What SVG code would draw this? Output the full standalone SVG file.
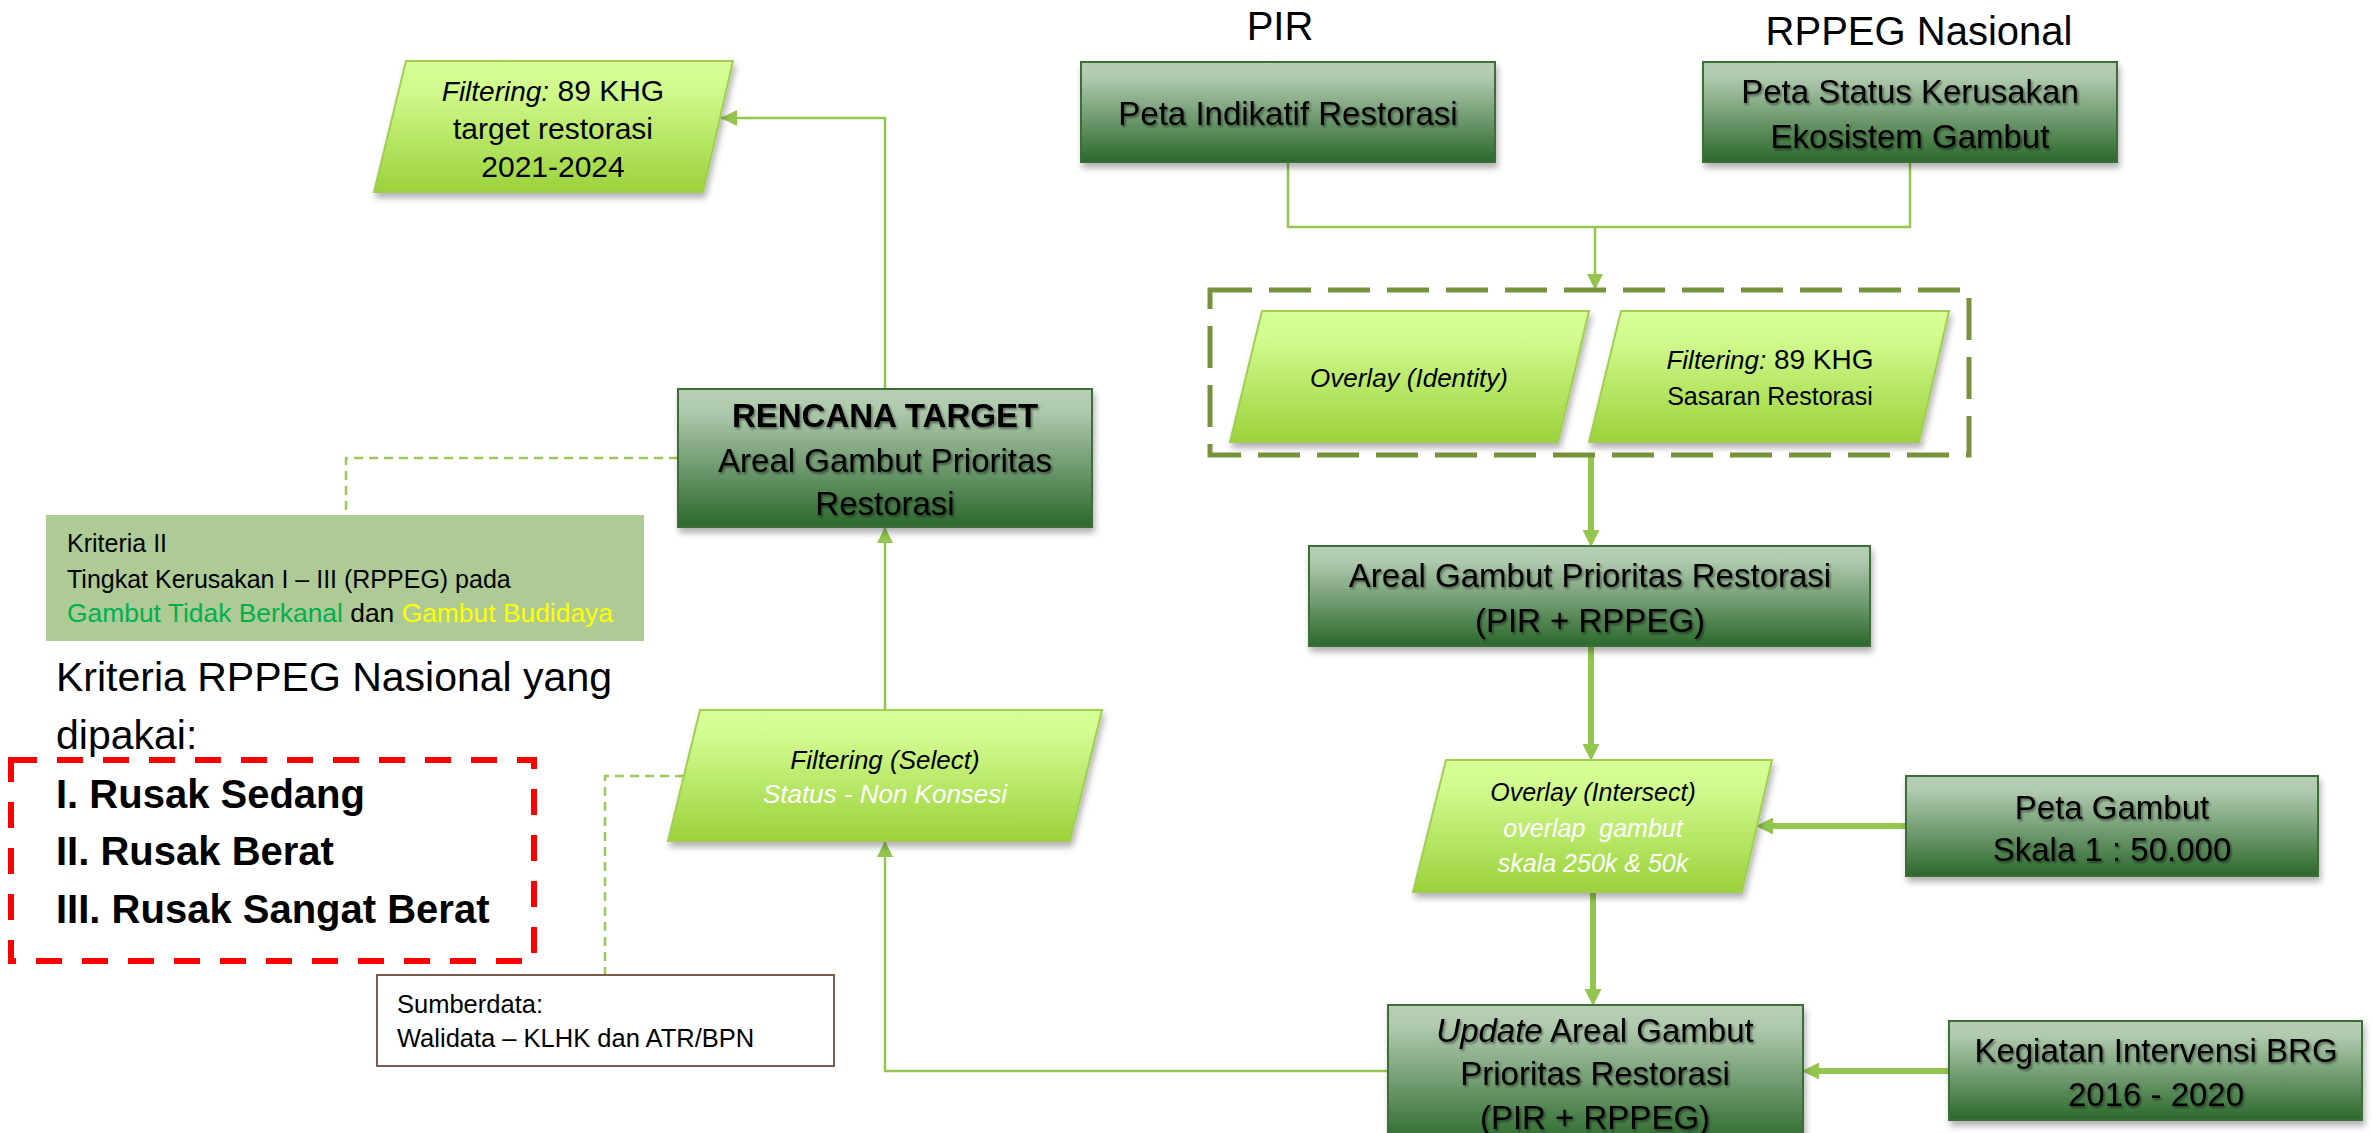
<svg xmlns="http://www.w3.org/2000/svg" width="2372" height="1133" viewBox="0 0 2372 1133">
<defs>
<linearGradient id="gDark" x1="0" y1="0" x2="0" y2="1">
<stop offset="0" stop-color="#B6CFB4"/>
<stop offset="0.15" stop-color="#B0CAAE"/>
<stop offset="1" stop-color="#2B682C"/>
</linearGradient>
<linearGradient id="gLight" x1="0" y1="0" x2="0" y2="1">
<stop offset="0" stop-color="#D7FF96"/>
<stop offset="0.2" stop-color="#D2FB8F"/>
<stop offset="1" stop-color="#9BD23B"/>
</linearGradient>
<filter id="shadow" x="-10%" y="-10%" width="120%" height="135%">
<feDropShadow dx="2" dy="5" stdDeviation="3" flood-color="#000" flood-opacity="0.3"/>
</filter>
<filter id="tshadow" x="-5%" y="-20%" width="110%" height="150%">
<feDropShadow dx="1.5" dy="2" stdDeviation="1.2" flood-color="#000" flood-opacity="0.45"/>
</filter>
<marker id="arr" markerUnits="userSpaceOnUse" markerWidth="16" markerHeight="16" refX="16" refY="8" orient="auto">
<path d="M0,0 L16,8 L0,16 z" fill="#93C54F"/>
</marker>
<marker id="arrT" markerUnits="userSpaceOnUse" markerWidth="17" markerHeight="17" refX="8" refY="8.5" orient="auto">
<path d="M0,0 L17,8.5 L0,17 z" fill="#93C54F"/>
</marker>
<style>
text{font-family:"Liberation Sans",Arial,sans-serif;fill:#000}
.dark{fill:url(#gDark);stroke:#3C6E39;stroke-width:2;filter:url(#shadow)}
.light{fill:url(#gLight);stroke:#A2CD52;stroke-width:2;filter:url(#shadow)}
.bt{font-size:33px;text-anchor:middle;filter:url(#tshadow)}
.pt{font-size:26px;text-anchor:middle;font-style:italic}
.up{font-style:normal}
.wh{fill:#FFFFFF}
.con{fill:none;stroke:#93C54F;stroke-width:2.5}
.conT{fill:none;stroke:#93C54F;stroke-width:6}
.dash{fill:none;stroke:#9BC95A;stroke-width:2.5;stroke-dasharray:9 6}
.kt{font-size:25px}
</style>
</defs>
<rect width="2372" height="1133" fill="#FFFFFF"/>

<g id="connectors">
<path class="con" d="M1288,162 V227 H1910 V162"/>
<path class="con" d="M1595,227 V290" marker-end="url(#arr)"/>
<path class="con" d="M885,389 V118 H721" marker-end="url(#arr)"/>
<path class="con" d="M885,710 V527" marker-end="url(#arr)"/>
<path class="con" d="M1388,1071 H885 V841" marker-end="url(#arr)"/>
<path class="conT" d="M1591,457 V538" marker-end="url(#arrT)"/>
<path class="conT" d="M1591,646 V752" marker-end="url(#arrT)"/>
<path class="conT" d="M1593,892 V997" marker-end="url(#arrT)"/>
<path class="conT" d="M1906,826 H1765" marker-end="url(#arrT)"/>
<path class="conT" d="M1949,1071 H1811" marker-end="url(#arrT)"/>
<path class="dash" d="M678,458 H346 V515"/>
<path class="dash" d="M684,776 H605 V975"/>
</g>

<g id="title-pir"><text x="1280" y="40" font-size="40" text-anchor="middle">PIR</text></g>
<g id="title-rppeg"><text x="1919" y="45" font-size="40" text-anchor="middle">RPPEG Nasional</text></g>

<g id="node-pir">
<rect class="dark" x="1081" y="62" width="414" height="100"/>
<text class="bt" x="1288" y="125">Peta Indikatif Restorasi</text>
</g>
<g id="node-rppeg">
<rect class="dark" x="1703" y="62" width="414" height="100"/>
<text class="bt" x="1910" y="103">Peta Status Kerusakan</text>
<text class="bt" x="1910" y="148">Ekosistem Gambut</text>
</g>

<g id="group-dashed">
<rect x="1210" y="290" width="759" height="165" fill="none" stroke="#76923C" stroke-width="5" stroke-dasharray="42 17"/>
</g>
<g id="node-overlay-identity">
<polygon class="light" points="1262,311 1589,311 1558,442 1230,442"/>
<text class="pt" x="1409" y="387">Overlay (Identity)</text>
</g>
<g id="node-filter-sasaran">
<polygon class="light" points="1621,311 1949,311 1919,442 1589,442"/>
<text class="pt" x="1770" y="369" font-size="25"><tspan>Filtering:</tspan><tspan class="up" font-size="28"> 89 KHG</tspan></text>
<text class="pt up" x="1770" y="405" style="font-size:25px">Sasaran Restorasi</text>
</g>

<g id="node-areal">
<rect class="dark" x="1309" y="546" width="561" height="100"/>
<text class="bt" x="1590" y="587">Areal Gambut Prioritas Restorasi</text>
<text class="bt" x="1590" y="632">(PIR + RPPEG)</text>
</g>

<g id="node-overlay-intersect">
<polygon class="light" points="1446,760 1772,760 1742,892 1413,892"/>
<text class="pt" x="1593" y="801" style="font-size:25px">Overlay (Intersect)</text>
<text class="pt wh" x="1593" y="837" style="font-size:25px">overlap&#160; gambut</text>
<text class="pt wh" x="1593" y="872" style="font-size:25px">skala 250k &amp; 50k</text>
</g>

<g id="node-peta-gambut">
<rect class="dark" x="1906" y="776" width="412" height="100"/>
<text class="bt" x="2112" y="819">Peta Gambut</text>
<text class="bt" x="2112" y="861">Skala 1 : 50.000</text>
</g>

<g id="node-update">
<rect class="dark" x="1388" y="1005" width="415" height="140"/>
<text class="bt" x="1595" y="1042"><tspan font-style="italic">Update</tspan> Areal Gambut</text>
<text class="bt" x="1595" y="1085">Prioritas Restorasi</text>
<text class="bt" x="1595" y="1129">(PIR + RPPEG)</text>
</g>

<g id="node-kegiatan">
<rect class="dark" x="1949" y="1021" width="413" height="99"/>
<text class="bt" x="2156" y="1062">Kegiatan Intervensi BRG</text>
<text class="bt" x="2156" y="1106">2016 - 2020</text>
</g>

<g id="node-filter-target">
<polygon class="light" points="406,61 733,61 703,192 374,192"/>
<text x="553" y="101" font-size="28" text-anchor="middle"><tspan font-style="italic">Filtering:</tspan><tspan font-size="30"> 89 KHG</tspan></text>
<text x="553" y="139" font-size="30" text-anchor="middle">target restorasi</text>
<text x="553" y="177" font-size="30" text-anchor="middle">2021-2024</text>
</g>

<g id="node-rencana">
<rect class="dark" x="678" y="389" width="414" height="138"/>
<text class="bt" x="885" y="427" font-weight="bold">RENCANA TARGET</text>
<text class="bt" x="885" y="472">Areal Gambut Prioritas</text>
<text class="bt" x="885" y="515">Restorasi</text>
</g>

<g id="node-filter-select">
<polygon class="light" points="700,710 1102,710 1070,841 668,841"/>
<text class="pt" x="885" y="769">Filtering (Select)</text>
<text class="pt wh" x="885" y="803">Status - Non Konsesi</text>
</g>

<g id="node-kriteria2">
<rect x="46" y="515" width="598" height="126" fill="#AECB95"/>
<text class="kt" x="67" y="552">Kriteria II</text>
<text class="kt" x="67" y="588">Tingkat Kerusakan I – III (RPPEG) pada</text>
<text class="kt" x="67" y="622" textLength="546" lengthAdjust="spacingAndGlyphs"><tspan fill="#00B050">Gambut Tidak Berkanal</tspan> dan <tspan fill="#FFFF00">Gambut Budidaya</tspan></text>
</g>

<g id="node-kriteria-rppeg">
<text x="56" y="691" font-size="41">Kriteria RPPEG Nasional yang</text>
<text x="56" y="749" font-size="41">dipakai:</text>
</g>

<g id="node-rusak">
<rect x="11" y="760" width="523" height="201" fill="none" stroke="#FF0000" stroke-width="6" stroke-dasharray="26 20"/>
<text x="56" y="808" font-size="40" font-weight="bold">I. Rusak Sedang</text>
<text x="56" y="865" font-size="40" font-weight="bold">II. Rusak Berat</text>
<text x="56" y="923" font-size="40" font-weight="bold">III. Rusak Sangat Berat</text>
</g>

<g id="node-sumberdata">
<rect x="377" y="975" width="457" height="91" fill="#FFFFFF" stroke="#7B5B4B" stroke-width="2"/>
<text x="397" y="1013" font-size="25.5">Sumberdata:</text>
<text x="397" y="1047" font-size="25.5">Walidata – KLHK dan ATR/BPN</text>
</g>
</svg>
